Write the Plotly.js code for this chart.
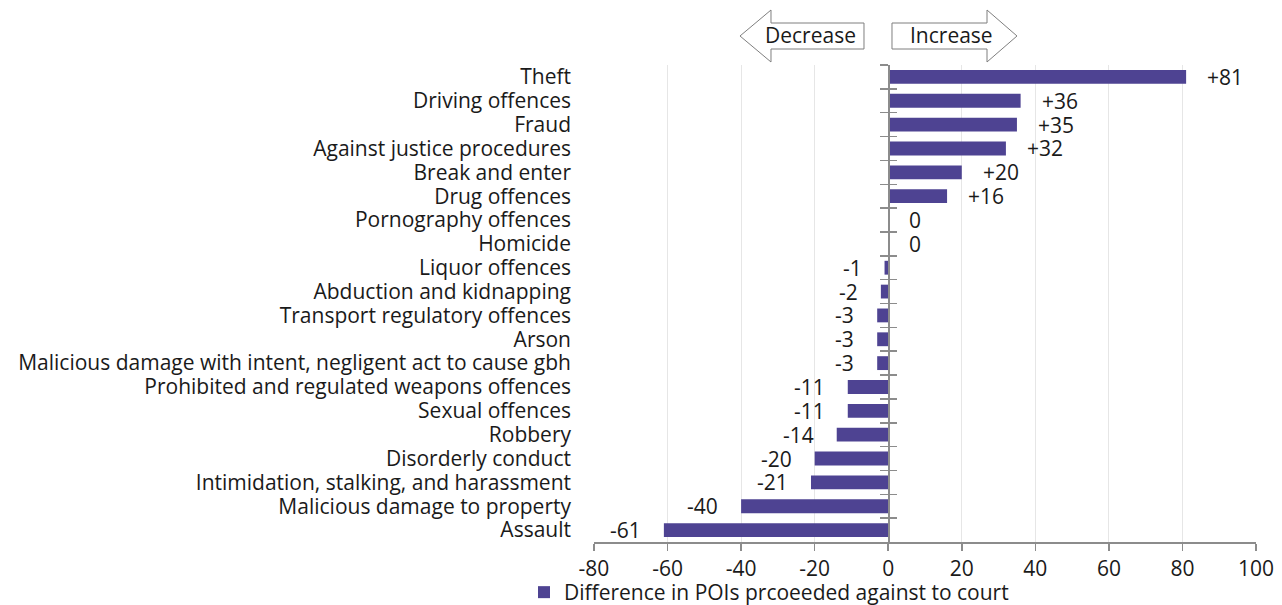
<!DOCTYPE html>
<html>
<head>
<meta charset="utf-8">
<script src="https://cdn.plot.ly/plotly-3.0.1.min.js"></script>
<style>html,body{margin:0;padding:0;background:#fff;}#chart{width:1282px;height:605px;}</style>
</head>
<body>
<div id="chart"></div>
<script>
// ---- data ----
const categories = [
  "Theft",
  "Driving offences",
  "Fraud",
  "Against justice procedures",
  "Break and enter",
  "Drug offences",
  "Pornography offences",
  "Homicide",
  "Liquor offences",
  "Abduction and kidnapping",
  "Transport regulatory offences",
  "Arson",
  "Malicious damage with intent, negligent act to cause gbh",
  "Prohibited and regulated weapons offences",
  "Sexual offences",
  "Robbery",
  "Disorderly conduct",
  "Intimidation, stalking, and harassment",
  "Malicious damage to property",
  "Assault"
];
const differences = [81, 36, 35, 32, 20, 16, 0, 0, -1, -2, -3, -3, -3, -11, -11, -14, -20, -21, -40, -61];
const seriesName = "Difference in POIs prcoeeded against to court";
const xTicks = [-80, -60, -40, -20, 0, 20, 40, 60, 80, 100];

// ---- layout geometry ----
const W = 1282, H = 605;
const M = {l: 594, r: 26, t: 65, b: 63};
const PW = W - M.l - M.r, PH = H - M.t - M.b;
const xRange = [-80, 100];
const px2x = px => (px - M.l) / PW;
const py2y = py => (H - M.b - py) / PH;

const FONT = "Open Sans, Noto Sans, sans-serif";
const FS = 21;
const TXT = "#1a1a1a";
const BAR = "#4e4392";
const AX = "#8c8c8c";

const zeroPos = (0 - xRange[0]) / (xRange[1] - xRange[0]);
const catRange = [categories.length - 0.5, -0.5];

const main = {
  type: "bar", orientation: "h",
  x: differences, y: categories,
  name: seriesName,
  marker: {color: BAR},
  width: 0.58,
  hoverinfo: "x+y"
};
const ghost = ax => ({
  type: "bar", orientation: "h",
  x: differences, y: categories,
  xaxis: "x", yaxis: ax,
  marker: {color: "rgba(0,0,0,0)"},
  showlegend: false, hoverinfo: "skip"
});

// value labels
const annotations = differences.map((v, i) => ({
  x: v, y: categories[i], xref: "x", yref: "y",
  text: v > 0 ? "+" + v : String(v),
  showarrow: false,
  xanchor: v >= 0 ? "left" : "right",
  xshift: v >= 0 ? 19 : -21,
  font: {family: FONT, size: FS, color: TXT}
}));

// arrow labels
annotations.push(
  {x: px2x(810), y: py2y(35), xref: "paper", yref: "paper", text: "Decrease", showarrow: false,
   xanchor: "center", yanchor: "middle", font: {family: FONT, size: FS, color: TXT}},
  {x: px2x(951), y: py2y(35), xref: "paper", yref: "paper", text: "Increase", showarrow: false,
   xanchor: "center", yanchor: "middle", font: {family: FONT, size: FS, color: TXT}}
);

function pathFrom(pts) {
  return "M" + pts.map(p => px2x(p[0]).toFixed(5) + "," + py2y(p[1]).toFixed(5)).join(" L") + " Z";
}
const decArrow = [[740, 36], [771, 10], [771, 23], [864, 23], [864, 49], [771, 49], [771, 62]];
const incArrow = [[892, 23], [987, 23], [987, 10], [1017, 36], [987, 62], [987, 49], [892, 49]];
const shapes = [decArrow, incArrow].map(a => ({
  type: "path", xref: "paper", yref: "paper", path: pathFrom(a),
  line: {color: "#7f7f7f", width: 1}, fillcolor: "#ffffff"
}));

const yBase = {
  type: "category", categoryorder: "array", categoryarray: categories,
  range: catRange, fixedrange: true
};

const layout = {
  width: W, height: H,
  margin: M,
  paper_bgcolor: "#fff", plot_bgcolor: "#fff",
  font: {family: FONT, size: FS, color: TXT},
  bargap: 0.42,
  showlegend: true,
  legend: {
    orientation: "h", xref: "container", yref: "container",
    x: 524 / W, y: (H - 572) / H, xanchor: "left", yanchor: "top",
    font: {family: FONT, size: FS, color: TXT}, itemwidth: 30,
    bgcolor: "rgba(0,0,0,0)"
  },
  xaxis: {
    range: xRange, tickvals: xTicks, ticktext: xTicks.map(String),
    showgrid: true, gridcolor: "#e6e6e6", gridwidth: 1,
    zeroline: false, showline: true, linecolor: AX, linewidth: 1.5,
    ticks: "outside", ticklen: 7, tickcolor: AX, tickwidth: 1.5,
    tickfont: {family: FONT, size: FS, color: TXT}, fixedrange: true
  },
  yaxis: Object.assign({}, yBase, {
    tickmode: "array", tickvals: categories, ticktext: categories,
    showgrid: false, zeroline: false, showline: false, ticks: "",
    ticklabelstandoff: 22,
    tickfont: {family: FONT, size: FS, color: TXT}
  }),
  yaxis2: Object.assign({}, yBase, {
    overlaying: "y", anchor: "free", position: zeroPos,
    showline: true, linecolor: AX, linewidth: 1.5,
    ticks: "outside", tickson: "boundaries", ticklen: 8, tickcolor: AX, tickwidth: 1.5,
    showticklabels: false, showgrid: false, zeroline: false
  }),
  yaxis3: Object.assign({}, yBase, {
    overlaying: "y", anchor: "free", position: zeroPos,
    showline: false,
    ticks: "inside", tickson: "boundaries", ticklen: 8, tickcolor: AX, tickwidth: 1.5,
    showticklabels: false, showgrid: false, zeroline: false
  }),
  annotations: annotations,
  shapes: shapes
};

Plotly.newPlot("chart", [main, ghost("y2"), ghost("y3")], layout, {displayModeBar: false, staticPlot: true});
</script>
</body>
</html>
